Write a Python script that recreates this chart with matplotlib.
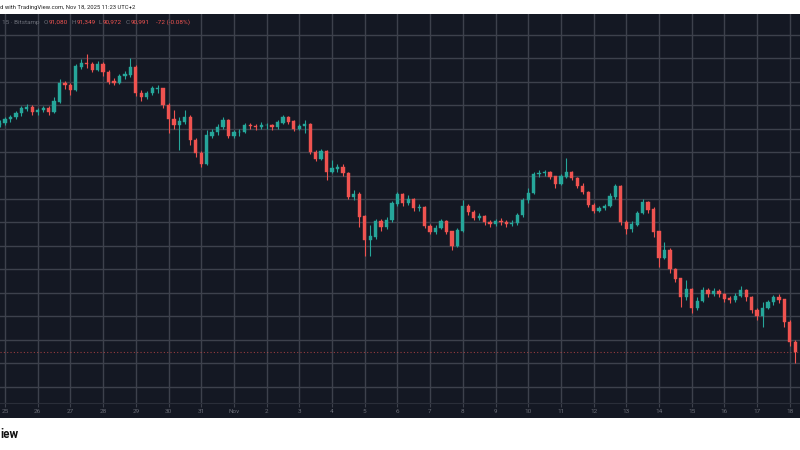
import matplotlib
matplotlib.use("Agg")
import matplotlib.pyplot as plt
import matplotlib.dates as mdates
import pandas as pd
import numpy as np

closes = [110.45, 110.8, 111.0, 111.3, 111.7, 111.85, 111.4, 111.6, 111.7, 111.4,
          112.3, 113.9, 113.7, 113.3, 115.3, 115.6, 115.5, 115.0, 115.5, 114.8,
          114.0, 113.9, 114.5, 114.6, 115.2, 113.0, 112.7, 113.0, 113.4, 113.4,
          112.0, 110.8, 110.3, 110.6, 111.0, 109.0, 107.9, 107.0, 109.4, 109.7,
          110.1, 110.7, 109.4, 109.7, 109.7, 110.3, 110.2, 110.1, 110.3, 110.3,
          110.1, 110.5, 111.0, 110.6, 110.0, 110.2, 110.4, 108.0, 107.4, 108.1,
          106.3, 106.6, 106.7, 106.2, 104.2, 104.4, 102.5, 100.5, 100.8, 102.1,
          101.6, 102.2, 103.6, 104.4, 103.7, 104.0, 103.2, 103.3, 101.7, 101.2,
          101.5, 102.1, 101.2, 100.0, 101.3, 103.4, 102.9, 102.4, 102.5, 102.0,
          101.85, 102.1, 102.0, 101.85, 101.95, 102.6, 103.9, 104.5, 106.1, 106.2,
          106.3, 105.9, 105.3, 105.9, 106.3, 105.8, 105.1, 104.6, 103.5, 103.0,
          103.2, 103.4, 104.2, 105.1, 102.0, 101.4, 101.8, 102.8, 103.7, 103.1,
          101.2, 99.0, 99.6, 98.0, 97.2, 95.6, 96.3, 94.7, 95.3, 96.2,
          95.9, 96.1, 95.9, 95.5, 95.4, 95.7, 96.2, 95.6, 94.5, 94.0,
          94.7, 95.2, 95.6, 95.4, 93.5, 91.8, 90.991]
highs = [110.7, 111.0, 111.2, 111.5, 111.9, 112.1, 112.0, 111.8, 111.95, 111.9,
         112.7, 114.2, 114.1, 113.9, 115.5, 115.9, 116.4, 115.7, 115.8, 115.7,
         115.0, 114.3, 114.7, 114.9, 116.0, 115.4, 113.3, 113.2, 113.6, 113.7,
         113.5, 112.2, 111.6, 111.0, 111.6, 111.2, 109.2, 108.1, 109.9, 110.0,
         110.4, 111.0, 110.8, 109.9, 110.0, 110.5, 110.5, 110.4, 110.6, 110.5,
         110.4, 110.7, 111.2, 111.1, 110.7, 110.4, 110.7, 110.5, 108.2, 108.3,
         108.2, 107.3, 107.0, 107.0, 106.3, 104.8, 104.6, 102.6, 101.8, 102.3,
         102.3, 102.5, 103.8, 104.6, 104.5, 104.3, 104.1, 103.6, 103.4, 101.9,
         101.8, 102.3, 102.2, 101.3, 101.5, 103.9, 103.6, 103.1, 102.8, 102.6,
         102.2, 102.3, 102.4, 102.2, 102.2, 102.8, 104.1, 104.9, 106.3, 106.5,
         106.5, 106.4, 106.0, 106.1, 107.5, 106.4, 105.9, 105.4, 104.7, 103.7,
         103.4, 103.6, 104.5, 105.3, 105.2, 102.2, 102.1, 103.0, 104.0, 103.8,
         103.3, 101.3, 100.3, 99.8, 98.1, 97.3, 97.1, 96.4, 95.6, 96.5,
         96.4, 96.4, 96.3, 96.0, 95.7, 96.0, 96.6, 96.3, 95.7, 94.7,
         95.2, 95.4, 95.8, 95.9, 95.5, 93.7, 92.0]
lows = [110.1, 110.3, 110.6, 110.8, 111.1, 111.5, 111.2, 111.2, 111.4, 111.2,
        111.3, 112.2, 113.4, 112.9, 113.2, 115.1, 115.2, 114.8, 114.9, 114.5,
        113.8, 113.7, 113.8, 114.2, 114.4, 112.8, 112.4, 112.5, 112.9, 113.0,
        111.8, 109.6, 110.0, 108.2, 110.4, 108.6, 107.6, 106.7, 106.9, 109.2,
        109.5, 110.0, 109.2, 109.2, 109.4, 109.6, 110.0, 109.9, 110.0, 110.0,
        109.9, 110.0, 110.4, 110.4, 109.8, 109.9, 109.6, 107.8, 107.2, 107.3,
        105.6, 106.2, 106.3, 106.0, 104.0, 103.9, 101.6, 99.1, 99.1, 100.6,
        101.3, 101.4, 102.0, 103.4, 103.4, 103.5, 103.0, 103.0, 101.5, 101.0,
        101.0, 101.4, 101.0, 99.65, 99.9, 101.2, 102.6, 102.2, 102.2, 101.8,
        101.6, 101.7, 101.8, 101.6, 101.7, 101.8, 102.5, 103.7, 104.4, 105.9,
        106.0, 105.7, 104.9, 105.2, 105.8, 105.6, 104.9, 104.4, 103.3, 102.8,
        102.9, 103.1, 103.3, 104.0, 101.8, 101.0, 101.2, 101.7, 102.7, 102.8,
        100.8, 98.2, 98.9, 97.7, 96.9, 94.8, 95.4, 94.3, 94.5, 95.2,
        95.6, 95.7, 95.6, 95.2, 95.1, 95.2, 95.6, 95.3, 94.3, 93.7,
        93.1, 94.6, 95.0, 95.1, 93.1, 91.5, 90.0]
first_open = 110.3
start_time = "2025-10-24 20:00"
day_labels = ["25", "26", "27", "28", "29", "30", "31", "Nov", "2", "3", "4", "5", "6",
              "7", "8", "9", "10", "11", "12", "13", "14", "15", "16", "17", "18"]
price_grid = list(range(88, 120, 2))
last_price = 90.991
header = [("15 · Bitstamp", "lab"), ("O", "lab"), ("91,080", "dn"), ("H", "lab"),
          ("91,349", "dn"), ("L", "lab"), ("90,972", "dn"), ("C", "lab"),
          ("90,991", "dn"), ("-72 (-0.08%)", "dn")]

bg = "#141823"
grid_c = "#3d414c"
up_c = "#26a69a"
down_c = "#ef5350"
label_c = "#6b6e78"
plt.rcParams['font.family'] = ['Roboto', 'DejaVu Sans']

times = pd.date_range(start_time, periods=len(closes), freq="4h")
x = mdates.date2num(times.to_pydatetime())
opens = [first_open] + closes[:-1]
closes_a = np.array(closes)
opens_a = np.array(opens)
up = closes_a >= opens_a
colors = [up_c if u else down_c for u in up]

fig = plt.figure(figsize=(8, 4.5), dpi=100, facecolor="white")
H = 450

def frac(y0, y1):
    return [0, 1 - y1 / H, 1, (y1 - y0) / H]

ax = fig.add_axes(frac(14, 403))
ax.set_facecolor(bg)
axt = fig.add_axes(frac(403, 418))
axt.set_facecolor(bg)

day0 = mdates.date2num(pd.Timestamp("2025-10-25").to_pydatetime())
days = [day0 + i for i in range(len(day_labels))]
xl = (day0 - 5 / 32.7, day0 + 795 / 32.7)
ax.set_xlim(xl)
axt.set_xlim(xl)
ax.set_ylim(92 - (403 - 339.7) / 11.725, 92 + (339.7 - 14) / 11.725)

for d in days:
    ax.axvline(d, color=grid_c, lw=1, zorder=0)
for p in price_grid:
    ax.axhline(p, color=grid_c, lw=1, zorder=0)

# candles
ax.vlines(x, lows, highs, colors=colors, lw=0.8, zorder=2)
ax.bar(x, np.abs(closes_a - opens_a) + 0.03, bottom=np.minimum(closes_a, opens_a),
       width=0.1, color=colors, edgecolor=colors, lw=0.3, zorder=3)

ax.axhline(last_price, color=down_c, lw=0.8, ls=(0, (1, 2)), alpha=0.6, zorder=1)

ax.set_xticks([])
ax.set_yticks([])
for s in ax.spines.values():
    s.set_visible(False)

# header line, each piece placed right after the previous one
fs = 4.6
prev = ax.text(0.003, 0.985, header[0][0], transform=ax.transAxes, fontsize=fs,
               color=label_c, va="top", ha="left")
for txt, kind in header[1:]:
    gap = 0.5 if kind == "dn" else 2.5
    if txt.startswith("-"):
        gap = 5
    prev = ax.annotate(txt, xy=(1, 0), xycoords=prev, xytext=(gap, 0),
                       textcoords="offset points", fontsize=fs, va="bottom", ha="left",
                       color=down_c if kind == "dn" else label_c)

# time axis
axt.set_yticks([])
axt.set_xticks(days)
axt.set_xticklabels(day_labels)
axt.tick_params(axis="x", which="both", top=True, bottom=False, direction="in",
                length=3, color=grid_c, labelsize=4.6, labelcolor=label_c,
                labeltop=False, labelbottom=True, pad=-6.5)
for s in axt.spines.values():
    s.set_visible(False)
axt.spines["top"].set_visible(True)
axt.spines["top"].set_color("#2a2e39")

fig.text(0.0, 1 - 7 / H, "d with TradingView.com, Nov 18, 2025 11:23 UTC+2",
         fontsize=4.2, color="#222222", va="center", ha="left")
fig.text(0.0, 1 - 434 / H, "iew", fontsize=8.5, fontweight="bold",
         color="#111111", va="center", ha="left")

plt.savefig("out.png", dpi=100, facecolor="white")
